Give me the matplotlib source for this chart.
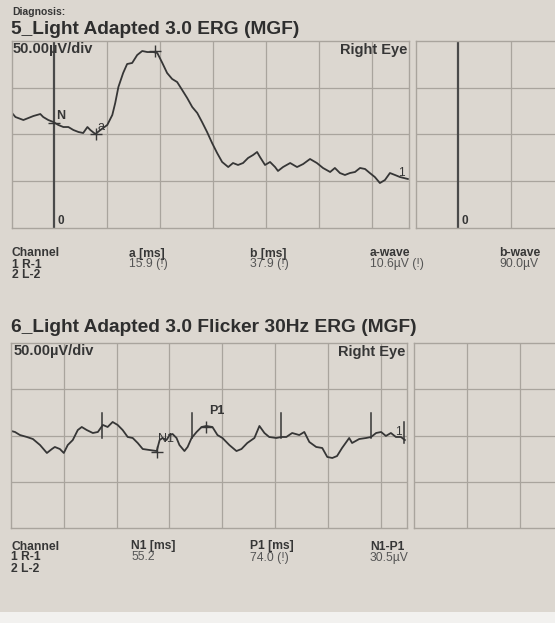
import matplotlib
matplotlib.use("Agg")
import matplotlib.pyplot as plt
import numpy as np

plt.rcParams['font.family'] = ['Liberation Sans', 'DejaVu Sans']

# --- data (time in ms, amplitude in uV) ---
erg_t = [-16.0, -14.7, -11.7, -7.9, -5.3, -4.2, -2.3, -0.4, 1.5, 3.4, 5.3, 7.2, 9.1, 10.9,
         12.5, 13.6, 15.5, 17.4, 20.0, 21.9, 23.0, 24.2, 26.0, 27.5, 29.4, 31.3, 33.2,
         35.1, 37.4, 38.9, 40.8, 42.6, 44.5, 46.4, 48.3, 50.2, 52.1, 54.0, 55.8, 57.7,
         59.6, 61.5, 63.4, 65.7, 67.5, 69.4, 71.3, 73.2, 75.1, 76.6, 77.7, 79.6, 81.5,
         83.4, 84.5, 86.4, 89.1, 91.7, 94.0, 96.6, 99.2, 101.5, 104.2, 106.0, 107.9,
         109.8, 111.7, 113.6, 115.5, 117.4, 119.2, 121.1, 123.0, 124.9, 126.8, 128.7,
         130.6, 133.6]
erg_v = [123.0, 118.7, 115.5, 119.8, 121.9, 118.7, 115.5, 113.4, 110.2, 108.0, 108.0,
         104.8, 102.7, 101.6, 108.0, 104.8, 100.5, 104.8, 110.2, 120.9, 133.7, 150.8,
         165.8, 175.4, 176.5, 185.0, 189.3, 188.2, 188.2, 187.2, 176.5, 165.8, 159.4,
         156.1, 147.6, 139.0, 129.4, 123.0, 113.4, 102.7, 90.9, 80.2, 70.6, 65.2, 69.5,
         67.4, 69.5, 74.9, 78.1, 81.3, 75.9, 67.4, 70.6, 65.2, 61.0, 65.2, 69.5, 65.2,
         68.4, 73.8, 69.5, 64.2, 59.9, 64.2, 58.8, 56.7, 58.8, 59.9, 64.2, 63.1, 58.8,
         54.5, 48.1, 51.3, 58.8, 56.7, 54.5, 52.4]
erg_a = (15.9, 100.5)
erg_b = (37.9, 189.5)
erg_n = (0.0, 112.3)

flk_t = [0.0, 1.5, 3.4, 6.0, 8.3, 11.0, 13.6, 15.5, 16.6, 18.5, 20.0, 21.5, 23.4, 25.3,
         26.8, 28.7, 31.0, 32.9, 34.8, 36.6, 38.5, 40.4, 42.3, 44.2, 46.1, 48.0, 49.9,
         52.5, 55.2, 56.3, 57.4, 58.9, 60.1, 61.2, 62.7, 63.8, 65.7, 66.9, 68.4, 70.3,
         72.2, 74.0, 76.3, 78.2, 80.1, 82.7, 85.4, 87.3, 89.5, 92.2, 94.1, 96.0, 97.8,
         100.5, 102.4, 104.3, 106.5, 109.2, 111.1, 113.0, 115.6, 117.9, 119.8, 121.7,
         123.5, 125.4, 128.1, 129.2, 131.9, 134.5, 136.4, 138.3, 140.2, 142.0, 143.9,
         145.8, 147.7, 149.2]
flk_v = [104.9, 103.8, 100.5, 98.4, 96.2, 89.7, 81.1, 85.4, 87.6, 85.4, 81.1, 89.7, 95.1,
         105.9, 109.2, 105.9, 102.7, 103.8, 111.4, 109.2, 114.6, 111.4, 105.9, 98.4, 97.3,
         91.9, 85.4, 84.3, 83.2, 95.1, 97.3, 95.1, 100.5, 101.6, 97.3, 89.7, 83.2, 87.6,
         97.3, 103.8, 109.2, 110.3, 109.2, 100.5, 97.3, 89.7, 83.2, 85.4, 91.9, 97.3,
         110.3, 102.7, 98.4, 97.3, 98.4, 98.4, 102.7, 100.5, 103.8, 93.0, 87.6, 86.5,
         76.8, 75.7, 77.8, 86.5, 97.3, 91.9, 96.2, 97.3, 98.4, 102.7, 103.8, 99.5, 102.7,
         98.4, 98.4, 95.1]
flk_n1 = (55.2, 82.0)
flk_p1 = (74.0, 109.5)
flk_stim = [34.3, 68.7, 102.3, 136.2]
flk_end = 148.7

top_table = [("Channel", 12), ("a [ms]", 129), ("b [ms]", 250), ("a-wave", 370), ("b-wave", 499)]
top_vals = [("15.9 (!)", 129), ("37.9 (!)", 250), ("10.6\u00b5V (!)", 370), ("90.0\u00b5V", 499)]
bot_table = [("Channel", 11), ("N1 [ms]", 131), ("P1 [ms]", 250), ("N1-P1", 370)]
bot_vals = [("55.2", 131), ("74.0 (!)", 250), ("30.5\u00b5V", 370)]
channels = ["1 R-1", "2 L-2"]

PAPER = "#dcd7d0"
GRID = "#a9a49d"
INK = "#363636"
W, H = 555, 623

fig = plt.figure(figsize=(W / 100, H / 100), dpi=100, facecolor=PAPER)


def fx(px):
    return px / W


def fy(py):
    return 1 - py / H


def panel(x0, y0, w, h, xmin, xmax, xgrid):
    ax = fig.add_axes([fx(x0), fy(y0 + h), w / W, h / H])
    ax.set_facecolor(PAPER)
    ax.set_xlim(xmin, xmax)
    ax.set_ylim(0, 200)
    ax.set_xticks(xgrid)
    ax.set_yticks([50, 100, 150])
    ax.tick_params(length=0, labelbottom=False, labelleft=False)
    ax.grid(True, color=GRID, lw=0.9)
    for s in ax.spines.values():
        s.set_color(GRID)
        s.set_linewidth(1.0)
    return ax


# --- section 5: light adapted ERG ---
fig.text(fx(12), fy(12), "Diagnosis:", fontsize=7.5, fontweight="bold", color=INK, va="center")
fig.text(fx(11), fy(29), "5_Light Adapted 3.0 ERG (MGF)", fontsize=13.8, fontweight="bold",
         color="#2e2e2e", va="center")

ax1 = panel(12, 41, 397, 187, -16, 134, np.arange(20, 140, 20))
ax1.axvline(0, color="#4a4a4a", lw=1.6)
ax1.plot(erg_t, erg_v, color=INK, lw=1.3)
ax1.plot(*erg_a, marker="+", ms=8, mew=1.0, color=INK)
ax1.plot(*erg_b, marker="+", ms=8, mew=1.0, color=INK)
ax1.plot(*erg_n, marker="_", ms=9, mew=1.0, color=INK)
ax1.text(0.8, 120, "N", fontsize=9, fontweight="bold", color=INK, va="center")
ax1.text(erg_a[0] + 0.5, erg_a[1] + 7, "a", fontsize=9, color=INK, va="center")
ax1.text(130.0, 59, "1", fontsize=8.5, color=INK, va="center")
ax1.text(1.2, 7, "0", fontsize=8.5, fontweight="bold", color=INK, va="center")
ax1.text(-15.6, 191, "50.00\u00b5V/div", fontsize=10.5, fontweight="bold", color=INK, va="center")
ax1.text(133.5, 190, "Right Eye", fontsize=10.5, fontweight="bold", color=INK, va="center", ha="right")

ax2 = panel(416, 41, 397, 187, -16, 134, np.arange(20, 140, 20))
ax2.axvline(0, color="#4a4a4a", lw=1.6)
ax2.text(1.2, 7, "0", fontsize=8.5, fontweight="bold", color=INK, va="center")

for label, px in top_table:
    fig.text(fx(px), fy(253.5), label, fontsize=8.7, fontweight="bold", color=INK, va="center")
for label, px in top_vals:
    fig.text(fx(px), fy(264.5), label, fontsize=8.7, color="#555555", va="center")
for i, ch in enumerate(channels):
    fig.text(fx(12), fy(264.5 + 11 * i), ch, fontsize=8.7, fontweight="bold", color=INK, va="center")

# --- section 6: flicker ---
fig.text(fx(11), fy(328), "6_Light Adapted 3.0 Flicker 30Hz ERG (MGF)", fontsize=13.8,
         fontweight="bold", color="#2e2e2e", va="center")

ax3 = panel(11, 343, 396, 185, 0, 150, np.arange(20, 150, 20))
ax3.plot(flk_t, flk_v, color=INK, lw=1.3)
for t in flk_stim:
    ax3.plot([t, t], [97, 124], color=INK, lw=1.1)
ax3.plot([flk_end, flk_end], [92, 115], color=INK, lw=1.1)
ax3.plot(*flk_n1, marker="+", ms=8, mew=1.0, color=INK)
ax3.plot(*flk_p1, marker="+", ms=8, mew=1.0, color=INK)
ax3.text(flk_n1[0] + 0.5, 96, "N1", fontsize=9, color=INK, va="center")
ax3.text(flk_p1[0] + 1, 126, "P1", fontsize=9, fontweight="bold", color=INK, va="center")
ax3.text(145.5, 104, "1", fontsize=8.5, color=INK, va="center")
ax3.text(0.8, 191, "50.00\u00b5V/div", fontsize=10.5, fontweight="bold", color=INK, va="center")
ax3.text(149.5, 190, "Right Eye", fontsize=10.5, fontweight="bold", color=INK, va="center", ha="right")

ax4 = panel(414, 343, 396, 185, 0, 150, np.arange(20, 150, 20))

for label, px in bot_table:
    fig.text(fx(px), fy(546.5), label, fontsize=8.7, fontweight="bold", color=INK, va="center")
for label, px in bot_vals:
    fig.text(fx(px), fy(557.5), label, fontsize=8.7, color="#555555", va="center")
for i, ch in enumerate(channels):
    fig.text(fx(11), fy(557.5 + 11 * i), ch, fontsize=8.7, fontweight="bold", color=INK, va="center")

# light strip at the bottom of the photo
fig.patches.append(plt.Rectangle((0, 0), 1, 11 / H, transform=fig.transFigure,
                                 facecolor="#f2f1ef", edgecolor="none", zorder=-1))

fig.savefig("out.png", dpi=100, facecolor=PAPER)
